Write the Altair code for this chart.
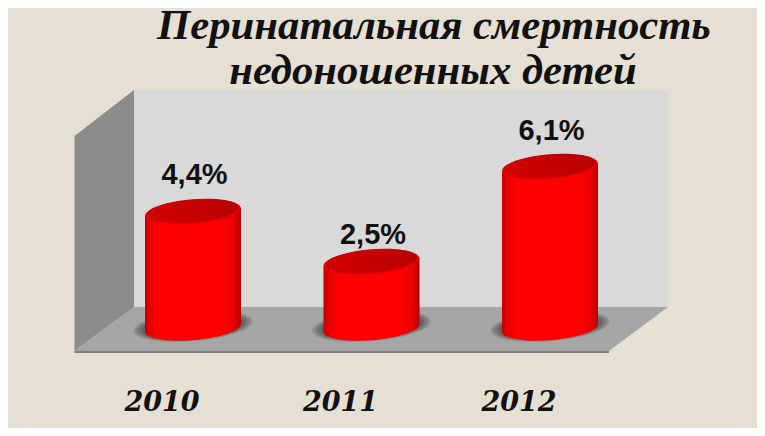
import altair as alt
import pandas as pd

years = ["2010", "2011", "2012"]
values = [4.4, 2.5, 6.1]
labels = ["4,4%", "2,5%", "6,1%"]
slots = [0, 1, 2]
title_lines = ["Перинатальная смертность", "недоношенных детей"]

PAGE = 8
W, H = 749, 420
PX_PER_SLOT, PX_PER_PCT = 178.5, 26.4
X0, Y0 = 193.0, 328.0
LABEL_LIFT = [28, 18, 27]


def X(px):
    return (px - X0) / PX_PER_SLOT


def Y(py):
    return (Y0 - py) / PX_PER_PCT


xs = alt.Scale(domain=[X(PAGE), X(PAGE + W)], range=[0, W], nice=False, zero=False)
ys = alt.Scale(domain=[Y(PAGE), Y(PAGE + H)], range=[0, H], nice=False, zero=False)
xe = alt.X("x:Q", scale=xs, axis=None)
ye = alt.Y("y:Q", scale=ys, axis=None)
y2e = alt.Y2("y2:Q")

df = pd.DataFrame({"year": years, "value": values, "label": labels, "slot": slots})
df["label_y"] = [v + l / PX_PER_PCT for v, l in zip(values, LABEL_LIFT)]


def poly(pts, color):
    d = pd.DataFrame([{"x": X(a), "y": Y(b), "y2": Y(c)} for a, b, c in pts])
    return alt.Chart(d).mark_area(color=color, opacity=1, interpolate="linear").encode(x=xe, y=ye, y2=y2e)


back = poly([(134, 90, 307), (668, 90, 307)], "#d9d9d9")
left = poly([(74.5, 136, 351), (134, 90, 307)], "#8c8c8c")
floor = poly([(74.5, 351, 351), (134, 307, 351), (609, 307, 351), (668, 307, 307)], "#a6a6a6")
edge = poly([(74.5, 351, 353), (609, 351, 353)], "#7f7f7f")

# Cylinder bodies: tilted sides share one gradient
HALF = 48 / PX_PER_SLOT
TILT = 4 / PX_PER_PCT
body_rows = []
for s, v, yr in zip(slots, values, years):
    body_rows.append({"x": s - HALF, "y": v - TILT, "y2": -TILT, "year": yr})
    body_rows.append({"x": s + HALF, "y": v + TILT, "y2": TILT, "year": yr})
body_df = pd.DataFrame(body_rows)

side = alt.Gradient(
    gradient="linear", x1=0, x2=1, y1=0, y2=0,
    stops=[
        alt.GradientStop(offset=0, color="#c00000"),
        alt.GradientStop(offset=0.05, color="#e80000"),
        alt.GradientStop(offset=0.16, color="#ff0000"),
        alt.GradientStop(offset=0.8, color="#ff0000"),
        alt.GradientStop(offset=0.93, color="#e80000"),
        alt.GradientStop(offset=1, color="#b00000"),
    ],
)
top_grad = alt.Gradient(
    gradient="linear", x1=0, x2=1, y1=0, y2=0,
    stops=[
        alt.GradientStop(offset=0, color="#d00000"),
        alt.GradientStop(offset=0.5, color="#c60000"),
        alt.GradientStop(offset=1, color="#b80000"),
    ],
)
# Tilted ellipse whose end points lie on its own major axis
ELLIPSE = "M-0.9966,0.082 A1,0.25 -4.7 1,1 0.9966,-0.082 A1,0.25 -4.7 1,1 -0.9966,0.082 Z"


def ell(width, fill, at_top, opacity=1.0, dy=0):
    yf = "value" if at_top else "zero"
    return (
        alt.Chart(df)
        .transform_calculate(zero="0")
        .mark_point(shape=ELLIPSE, filled=True, fill=fill, size=width * width,
                    opacity=opacity, strokeWidth=0, yOffset=dy)
        .encode(x=alt.X("slot:Q", scale=xs, axis=None),
                y=alt.Y(f"{yf}:Q", scale=ys, axis=None))
    )


shadows = [ell(w, "#1a1a1a", False, 0.11, -2) for w in (120, 116, 112, 108, 104, 100)]
bottom = ell(96, side, False)
bodies = (
    alt.Chart(body_df)
    .mark_area(fill=side, opacity=1, interpolate="linear")
    .encode(x=xe, y=ye, y2=y2e, detail="year:N")
)
rim = ell(96, "#e60000", True)
cap = ell(92, top_grad, True, dy=-1)

value_text = (
    alt.Chart(df)
    .mark_text(font="Liberation Sans", fontWeight="bold", fontSize=29, color="#111111",
               baseline="alphabetic", align="center", xOffset=1.5)
    .encode(x=alt.X("slot:Q", scale=xs, axis=None),
            y=alt.Y("label_y:Q", scale=ys, axis=None),
            text="label:N")
)
year_df = df.assign(ypos=Y(411))
year_text = (
    alt.Chart(year_df)
    .mark_text(font="DejaVu Serif", fontWeight="bold", fontStyle="italic", fontSize=27,
               color="#111111", baseline="alphabetic", align="center", xOffset=-31)
    .encode(x=alt.X("slot:Q", scale=xs, axis=None),
            y=alt.Y("ypos:Q", scale=ys, axis=None),
            text="year:N")
)
title_df = pd.DataFrame({"x": [X(434), X(433)], "y": [Y(39), Y(84)], "t": title_lines})
title_text = (
    alt.Chart(title_df)
    .mark_text(font="Liberation Serif", fontWeight="bold", fontStyle="italic", fontSize=42.7,
               color="#111111", baseline="alphabetic", align="center")
    .encode(x=xe, y=ye, text="t:N")
)

chart = alt.layer(
    back, left, floor, edge, *shadows, bottom, bodies, rim, cap, value_text, year_text, title_text
).properties(
    width=W, height=H, padding=0, background="#e6e0d4",
    autosize=alt.AutoSizeParams(type="none"),
).configure_view(stroke=None)

chart.save("out.html", embed_options={"renderer": "svg", "actions": False})
